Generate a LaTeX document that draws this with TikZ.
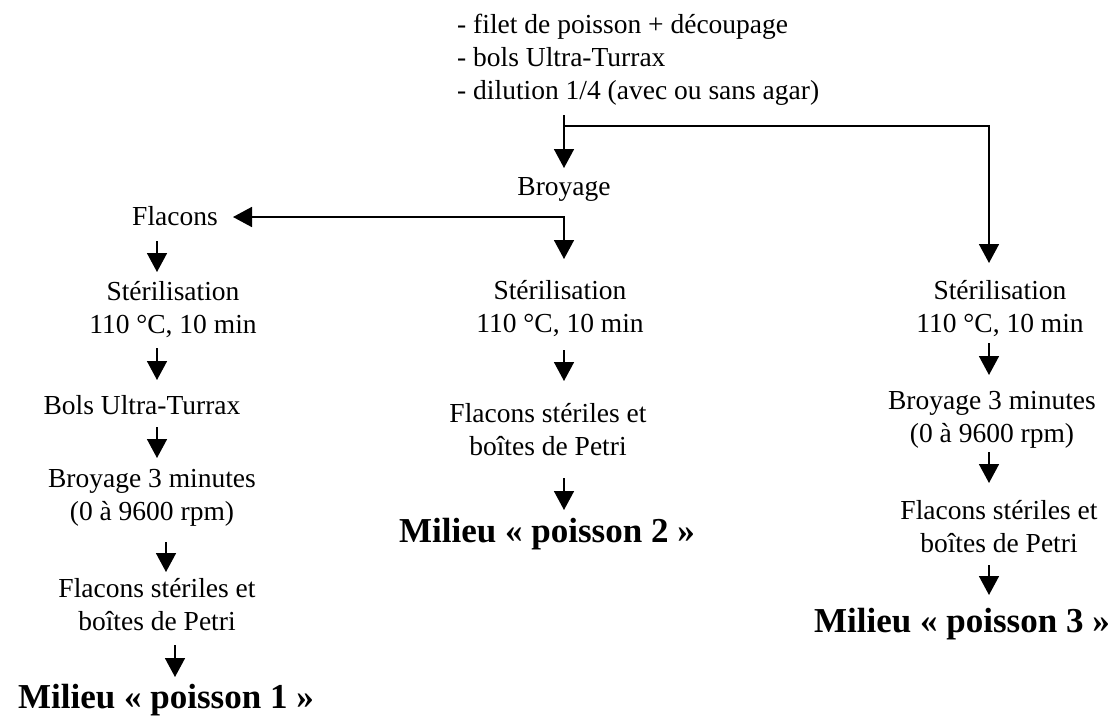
\documentclass[tikz,border=0pt]{standalone}
\usepackage{fontspec}
\setmainfont{Liberation Serif}
\usetikzlibrary{arrows.meta}
\begin{document}
\begin{tikzpicture}[x=1pt,y=-1pt,
  txt/.style={inner sep=0pt,anchor=base,align=center,font=\fontsize{27.5}{33}\selectfont},
  big/.style={inner sep=0pt,anchor=base,font=\fontsize{35}{40}\selectfont\bfseries},
  arr/.style={line width=1.6pt,-{Triangle[width=20pt,length=19pt]}},
  dbl/.style={line width=1.6pt,{Triangle[width=20pt,length=19pt]}-{Triangle[width=20pt,length=19pt]}}]
\useasboundingbox (0,0) rectangle (1114,716);
% top block (anchor at the baseline of its last line)
\node[inner sep=0pt,anchor=base west,align=left,font=\fontsize{27.5}{33}\selectfont] (top) at (457,99)
  {- filet de poisson + découpage\\- bols Ultra-Turrax\\- dilution 1/4 (avec ou sans agar)};
\node[txt] (broy) at (564,195) {Broyage};
\node[txt] (flac) at (175,225) {Flacons};
% left column
\node[txt] (ster1) at (173,333) {Stérilisation\\110 °C, 10 min};
\node[txt] (bols1) at (142,414) {Bols Ultra-Turrax};
\node[txt] (broy1) at (152,520) {Broyage 3 minutes\\(0 à 9600 rpm)};
\node[txt] (fl1) at (157,630) {Flacons stériles et\\boîtes de Petri};
\node[big] (mil1) at (166,708) {Milieu « poisson 1 »};
% middle column
\node[txt] (ster2) at (560,332) {Stérilisation\\110 °C, 10 min};
\node[txt] (fl2) at (548,455) {Flacons stériles et\\boîtes de Petri};
\node[big] (mil2) at (547,542) {Milieu « poisson 2 »};
% right column
\node[txt] (ster3) at (1000,332) {Stérilisation\\110 °C, 10 min};
\node[txt] (broy3) at (992,442) {Broyage 3 minutes\\(0 à 9600 rpm)};
\node[txt] (fl3) at (999,552) {Flacons stériles et\\boîtes de Petri};
\node[big] (mil3) at (962,632) {Milieu « poisson 3 »};
% connector points
\coordinate (j0) at (564,115);
\coordinate (j1) at (564,126);
\coordinate (j2) at (564,217);
\coordinate (t0) at (564,168);
\coordinate (t3) at (989,263);
\coordinate (t2) at (564,259);
\coordinate (tf) at (233,217);
% connectors
\draw[arr] (j0) -- (t0);
\draw[arr] (j1) -| (t3);
\draw[dbl] (tf) -- (j2) -- (t2);
% left arrows
\coordinate (l1a) at (157,241); \coordinate (l1b) at (157,272);
\coordinate (l2a) at (157,348); \coordinate (l2b) at (157,380);
\coordinate (l3a) at (157,427); \coordinate (l3b) at (157,458);
\coordinate (l4a) at (166,542); \coordinate (l4b) at (166,572);
\coordinate (l5a) at (175,645); \coordinate (l5b) at (175,677);
\draw[arr] (l1a) -- (l1b);
\draw[arr] (l2a) -- (l2b);
\draw[arr] (l3a) -- (l3b);
\draw[arr] (l4a) -- (l4b);
\draw[arr] (l5a) -- (l5b);
% middle arrows
\coordinate (m1a) at (564,350); \coordinate (m1b) at (564,381);
\coordinate (m2a) at (564,478); \coordinate (m2b) at (564,510);
\draw[arr] (m1a) -- (m1b);
\draw[arr] (m2a) -- (m2b);
% right arrows
\coordinate (r1a) at (989,343); \coordinate (r1b) at (989,375);
\coordinate (r2a) at (989,452); \coordinate (r2b) at (989,483);
\coordinate (r3a) at (989,565); \coordinate (r3b) at (989,595);
\draw[arr] (r1a) -- (r1b);
\draw[arr] (r2a) -- (r2b);
\draw[arr] (r3a) -- (r3b);
\end{tikzpicture}
\end{document}
